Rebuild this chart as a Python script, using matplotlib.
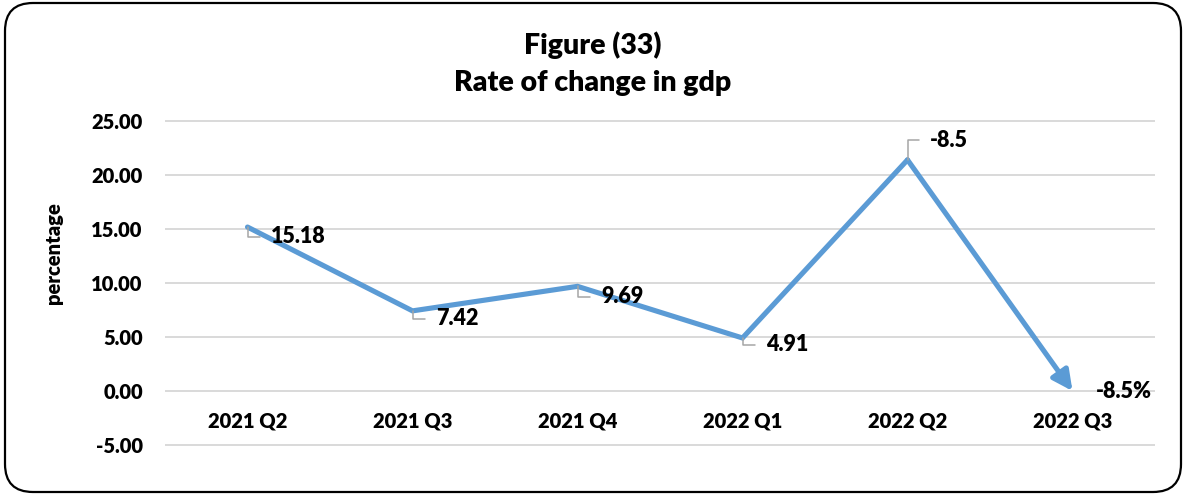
import matplotlib
import matplotlib.pyplot as plt
from matplotlib.patches import FancyBboxPatch

matplotlib.use("Agg")

quarters = ["2021 Q2", "2021 Q3", "2021 Q4", "2022 Q1", "2022 Q2", "2022 Q3"]
rates = [15.18, 7.42, 9.69, 4.91, 21.4, 0.0]
label_texts = ["15.18", "7.42", "9.69", "4.91", "-8.5", "-8.5%"]
y_ticks = [-5, 0, 5, 10, 15, 20, 25]

LINE = "#5b9bd5"
GRID = "#d9d9d9"
LEADER = "#a6a6a6"
WEIGHT = "heavy"

plt.rcParams["font.family"] = ["Lato", "DejaVu Sans"]
plt.rcParams["font.weight"] = WEIGHT

fig = plt.figure(figsize=(11.86, 4.95), dpi=100)
ax = fig.add_axes([165 / 1186, 1 - 447.2 / 495, 990 / 1186, 328.4 / 495])

x = list(range(len(quarters)))

# line up to the last point, final segment drawn as an arrow
ax.plot(x[:-1], rates[:-1], color=LINE, lw=3.7, solid_joinstyle="miter",
        solid_capstyle="round", zorder=3)
ax.annotate("", xy=(x[-1], rates[-1]), xytext=(x[-2], rates[-2]),
            arrowprops=dict(arrowstyle="-|>,head_length=1.2,head_width=0.6",
                            color=LINE, lw=3.7, shrinkA=0, shrinkB=0),
            zorder=3)

# data labels with short leader lines
offsets = [(17, -7), (17, -5.5), (17, -7.5), (17, -5), (16, 14), (17, 0)]
for i, (txt, (dx, dy)) in enumerate(zip(label_texts, offsets)):
    if i == len(quarters) - 1:
        ax.annotate(txt, xy=(x[i], rates[i]), xytext=(dx, dy),
                    textcoords="offset points", ha="left", va="center",
                    fontsize=15.5, fontweight=WEIGHT, zorder=4)
        continue
    if i == 4:
        cs = "angle,angleA=0,angleB=-90,rad=0"
    else:
        cs = "angle,angleA=0,angleB=90,rad=0"
    ax.annotate(txt, xy=(x[i], rates[i]), xytext=(dx, dy),
                textcoords="offset points", ha="left", va="center",
                fontsize=15.5, fontweight=WEIGHT, zorder=4,
                arrowprops=dict(arrowstyle="-", color=LEADER, lw=1.1,
                                connectionstyle=cs, shrinkA=6, shrinkB=0,
                                relpos=(0, 0.5)))

ax.set_xlim(-0.5, len(quarters) - 0.5)
ax.set_ylim(-5.2, 25.2)
ax.set_yticks(y_ticks)
ax.set_yticklabels([f"{v:.2f}" for v in y_ticks])
ax.set_xticks(x)
ax.set_xticklabels(quarters)

ax.grid(axis="y", color=GRID, lw=1.4, zorder=0)
ax.grid(axis="x", visible=False)
for side in ["top", "right", "left"]:
    ax.spines[side].set_visible(False)
ax.spines["bottom"].set_position(("data", 0))
ax.spines["bottom"].set_visible(False)

ax.tick_params(axis="y", length=0, pad=16, labelsize=14.5)
ax.tick_params(axis="x", length=0, pad=15, labelsize=14.5)
for lbl in ax.get_xticklabels() + ax.get_yticklabels():
    lbl.set_fontweight(WEIGHT)

ax.set_ylabel("percentage", fontsize=14.5, fontweight=WEIGHT)
ax.yaxis.set_label_coords(-0.103, 0.59)

fig.text(0.5, 1 - 45 / 495, "Figure (33)", ha="center", va="center",
         fontsize=20.5, fontweight=WEIGHT)
fig.text(0.5, 1 - 83 / 495, "Rate of change in gdp", ha="center", va="center",
         fontsize=20.5, fontweight=WEIGHT)

# rounded chart border
border = FancyBboxPatch((0.05, 0.03), 11.76, 4.89,
                        boxstyle="round,pad=0,rounding_size=0.28",
                        transform=fig.dpi_scale_trans, fill=False,
                        edgecolor="black", lw=1.6)
fig.patches.append(border)

fig.savefig("out.png", dpi=100)
